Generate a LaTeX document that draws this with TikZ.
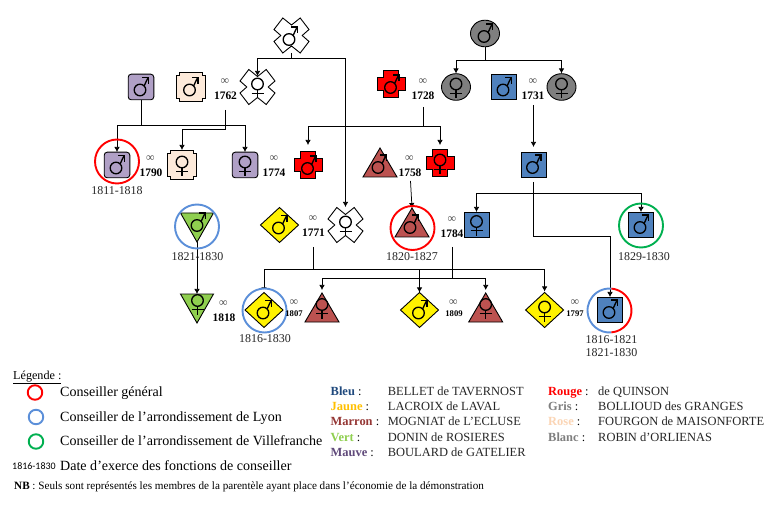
\documentclass[tikz,border=0pt]{standalone}
\usepackage{fontspec}
\setmainfont{Liberation Serif}
\newfontfamily\datefont{Carlito}
\usetikzlibrary{arrows.meta}
\definecolor{cmauve}{HTML}{B0A0C6}
\definecolor{crose}{HTML}{FDEADA}
\definecolor{cblue}{HTML}{4F81BD}
\definecolor{cbrown}{HTML}{BC5250}
\definecolor{cgreen}{HTML}{8FCF4F}
\definecolor{cgrey}{HTML}{7F7F7F}
\definecolor{ringblue}{HTML}{5B8FD9}
\definecolor{ringgreen}{HTML}{00B050}
\definecolor{tnavy}{HTML}{1F497D}
\definecolor{tjaune}{HTML}{FFC000}
\definecolor{tmarron}{HTML}{953735}
\definecolor{tmauve}{HTML}{604A7B}
\definecolor{trose}{HTML}{FBD5B5}
\tikzset{
  pbox/.style={inner sep=0pt,outer sep=0pt,rectangle},
  pshape/.style={draw=black,line width=0.9pt,line join=miter},
  sym/.style={draw=black,line width=1.35pt},
  conn/.style={draw=black,line width=0.75pt},
  arr/.style={conn,-{Latex[length=5bp,width=5.5bp]}},
  ring/.style={circle,draw,line width=1.9pt,minimum size=44bp,inner sep=0pt},
  legring/.style={circle,draw,line width=1.9pt,minimum size=14.5bp,inner sep=0pt},
  inf/.style={font=\fontsize{12}{12}\selectfont,text=black!70,inner sep=0pt},
  yr/.style={font=\fontsize{11.5}{12}\selectfont\bfseries,inner sep=0pt},
  yrs/.style={font=\fontsize{8.7}{10}\selectfont\bfseries,inner sep=0pt},
  dates/.style={font=\fontsize{12}{13}\selectfont,inner sep=0pt,text=black!85},
  legt/.style={font=\fontsize{14.1}{15}\selectfont,anchor=base west,inner sep=0pt},
  famk/.style={font=\fontsize{12.5}{13}\selectfont\bfseries,anchor=base west,inner sep=0pt},
  famv/.style={font=\fontsize{12.5}{13}\selectfont,anchor=base west,inner sep=0pt,text=black!85},
}
\newcommand{\symM}[2]{\begin{scope}[shift={(#1,#2)}]
  \draw[sym] (-1,3) circle (5.8);
  \draw[sym] (3.1,-1.1) -- (7,-9.2);
  \draw[sym] (1.4,-9.4) -- (7.6,-9.4) -- (7.6,-3.2);
  \end{scope}}
\newcommand{\symF}[2]{\begin{scope}[shift={(#1,#2)}]
  \draw[sym] (0,-3) circle (5.8);
  \draw[sym] (0,2.8) -- (0,11.5);
  \draw[sym] (-6,6.3) -- (6,6.3);
  \end{scope}}
\newcommand{\shSq}[1]{\draw[pshape,fill=#1] (-12.5,-12.5) rectangle (12.5,12.5);}
\newcommand{\shRd}[1]{\draw[pshape,fill=#1,rounded corners=3] (-12.8,-12.8) rectangle (12.8,12.8);}
\newcommand{\shPl}[1]{\draw[pshape,fill=#1] (-11.5,-14.5) -- (11.5,-14.5) -- (11.5,-11.5) -- (14.5,-11.5) -- (14.5,11.5) -- (11.5,11.5) -- (11.5,14.5) -- (-11.5,14.5) -- (-11.5,11.5) -- (-14.5,11.5) -- (-14.5,-11.5) -- (-11.5,-11.5) -- cycle;}
\newcommand{\shCr}[1]{\draw[pshape,fill=#1] (-7.5,-13.5) -- (7.5,-13.5) -- (7.5,-6.7) -- (14,-6.7) -- (14,6.7) -- (7.5,6.7) -- (7.5,13.5) -- (-7.5,13.5) -- (-7.5,6.7) -- (-14,6.7) -- (-14,-6.7) -- (-7.5,-6.7) -- cycle;}
\newcommand{\shX}{\draw[pshape,fill=white] (-8.7,-17.5) -- (0,-10.5) -- (8.7,-17.5) -- (17.5,-6) -- (10.7,0) -- (17.5,6) -- (8.7,17.5) -- (0,10.5) -- (-8.7,17.5) -- (-17.5,6) -- (-10.7,0) -- (-17.5,-6) -- cycle;}
\newcommand{\shDi}{\draw[pshape,fill=yellow] (-19,0) -- (0,-17.5) -- (19,0) -- (0,17.5) -- cycle;}
\newcommand{\shTr}{\draw[pshape,fill=cbrown] (-17,14.5) -- (0,-14.5) -- (17,14.5) -- cycle;}
\newcommand{\shTi}{\draw[pshape,fill=cgreen] (-16.5,-14.5) -- (16.5,-14.5) -- (0,14.5) -- cycle;}
\newcommand{\shEl}{\draw[pshape,fill=cgrey] (0,0) ellipse (14.5 and 13.3);}
\begin{document}
\begin{tikzpicture}[x=1bp,y=-1bp]
\useasboundingbox (0,0) rectangle (772,506);
\fill[white] (0,0) rectangle (772,506);

\node[pbox,minimum width=35bp,minimum height=35bp] (wm) at (291.5,35.5) {};
\node[pbox,minimum width=29bp,minimum height=27bp] (gm) at (485,33.5) {};

% junctions
\coordinate (j1) at (291.5,58);
\coordinate (j2) at (141,125.7);
\coordinate (j3) at (225.5,129.5);
\coordinate (j4) at (423,126.5);
\coordinate (j5) at (485,60);
\coordinate (j6) at (533.5,193);
\coordinate (j7) at (533.5,236.7);
\coordinate (j8) at (313,269.5);
\coordinate (j9) at (452,278);
\coordinate (s1762) at (225.5,110);
\coordinate (s1728) at (423,107);
\coordinate (s1731) at (533.5,105);
\coordinate (s1758) at (410.5,181);
\coordinate (s1771) at (313,247);
\coordinate (s1784) at (452,247);
\coordinate (k1) at (419.5,269.5);

\node[pbox,minimum width=35bp,minimum height=22bp] (wf) at (257.5,87) {};
\node[pbox,minimum width=26bp,minimum height=26bp] (mm) at (141,87) {};
\node[pbox,minimum width=29bp,minimum height=27bp] (rm) at (190.5,87) {};
\node[pbox,minimum width=28bp,minimum height=27bp] (redm) at (391,84) {};
\node[pbox,minimum width=29bp,minimum height=27bp] (gf) at (456,87) {};
\node[pbox,minimum width=25bp,minimum height=25bp] (bm) at (504,87) {};
\node[pbox,minimum width=29bp,minimum height=27bp] (gf2) at (561.5,87) {};
\node[pbox,minimum width=26bp,minimum height=26bp] (mson) at (117,165) {};
\node[pbox,minimum width=29bp,minimum height=30bp] (rf) at (182,165) {};
\node[pbox,minimum width=26bp,minimum height=26bp] (mf) at (245,165) {};
\node[pbox,minimum width=28bp,minimum height=40bp] (red2) at (308,165) {};
\node[pbox,minimum width=28bp,minimum height=36bp] (redf) at (440,163) {};
\node[pbox,minimum width=34bp,minimum height=29bp] (tm) at (380,162.5) {};
\node[pbox,minimum width=25bp,minimum height=35bp] (bson) at (533.5,164.5) {};
\node[pbox,minimum width=33bp,minimum height=29bp] (gm2) at (197,227.5) {};
\node[pbox,minimum width=38bp,minimum height=35bp] (ym) at (279.5,225) {};
\node[pbox,minimum width=35bp,minimum height=36bp] (wf2) at (345.5,225) {};
\node[pbox,minimum width=34bp,minimum height=29bp] (tm2) at (412,222.5) {};
\node[pbox,minimum width=25bp,minimum height=25bp] (bf) at (476.5,224.5) {};
\node[pbox,minimum width=25bp,minimum height=25bp] (bm3) at (641,224.5) {};
\node[pbox,minimum width=33bp,minimum height=29bp] (gf3) at (197,308.5) {};
\node[pbox,minimum width=38bp,minimum height=35bp] (ym2) at (264,310) {};
\node[pbox,minimum width=34bp,minimum height=35bp] (tf) at (322,307.5) {};
\node[pbox,minimum width=38bp,minimum height=35bp] (ym3) at (419.5,310) {};
\node[pbox,minimum width=34bp,minimum height=35bp] (tf2) at (485.7,307.5) {};
\node[pbox,minimum width=38bp,minimum height=37bp] (yf) at (544.6,310) {};
\node[pbox,minimum width=25bp,minimum height=25bp] (bm4) at (610,309.5) {};

% connectors
\draw[conn] (wm.south) -- (j1);
\draw[arr] (j1) -| (wf.north);
\draw[arr] (j1) -| (wf2.north);
\draw[conn] (mm.south) -- (j2);
\draw[arr] (j2) -| (mson.north);
\draw[arr] (j2) -| (mf.north);
\draw[conn] (s1762) -- (j3);
\draw[arr] (j3) -| (rf.north);
\draw[conn] (s1728) -- (j4);
\draw[arr] (j4) -| (red2.north);
\draw[arr] (j4) -| (redf.north);
\draw[conn] (gm.south) -- (j5);
\draw[arr] (j5) -| (gf.north);
\draw[arr] (j5) -| (gf2.north);
\draw[arr] (s1731) -- (bson.north);
\draw[conn] (bson.south) -- (j7);
\draw[arr] (j6) -| (bf.north);
\draw[arr] (j6) -| (bm3.north);
\draw[arr] (j7) -| (bm4.north);
\draw[arr] (s1758) -- (tm2.north);
\draw[arr] (gm2.south) -- (gf3.north);
\draw[conn] (s1771) -- (j8);
\draw[arr] (j8) -| (ym2.north);
\draw[arr] (j8) -| (yf.north);
\draw[arr] (k1) -- (ym3.north);
\draw[conn] (s1784) -- (j9);
\draw[arr] (j9) -| (tf.north);
\draw[arr] (j9) -| (tf2.north);

% shapes
\begin{scope}[shift={(wm.center)}]\shX\symM{-1.5}{1}\end{scope}
\begin{scope}[shift={(gm.center)}]\shEl{}\symM{0}{0}\end{scope}
\begin{scope}[shift={(wf.center)}]\shX\symF{0}{0}\end{scope}
\begin{scope}[shift={(mm.center)}]\shRd{cmauve}\symM{0}{0}\end{scope}
\begin{scope}[shift={(rm.center)}]\shPl{crose}\symM{0}{0}\end{scope}
\begin{scope}[shift={(redm.center)}]\shCr{red}\symM{0.5}{0.5}\end{scope}
\begin{scope}[shift={(gf.center)}]\shEl{}\symF{0}{0}\end{scope}
\begin{scope}[shift={(bm.center)}]\shSq{cblue}\symM{0}{0}\end{scope}
\begin{scope}[shift={(gf2.center)}]\shEl{}\symF{0}{0}\end{scope}
\begin{scope}[shift={(mson.center)}]\shRd{cmauve}\symM{0}{0}\end{scope}
\begin{scope}[shift={(rf.center)}]\shPl{crose}\symF{0}{0}\end{scope}
\begin{scope}[shift={(mf.center)}]\shRd{cmauve}\symF{0}{0}\end{scope}
\begin{scope}[shift={(red2.center)}]\shCr{red}\symM{0.5}{0.5}\end{scope}
\begin{scope}[shift={(redf.center)}]\shCr{red}\symF{0}{0}\end{scope}
\begin{scope}[shift={(tm.center)}]\shTr\symM{-1}{2}\end{scope}
\begin{scope}[shift={(bson.center)}]\shSq{cblue}\symM{0}{0}\end{scope}
\begin{scope}[shift={(gm2.center)}]\shTi\symM{1}{-5}\end{scope}
\begin{scope}[shift={(ym.center)}]\shDi\symM{0}{0}\end{scope}
\begin{scope}[shift={(wf2.center)}]\shX\symF{0}{0}\end{scope}
\begin{scope}[shift={(tm2.center)}]\shTr\symM{-1}{2}\end{scope}
\begin{scope}[shift={(bf.center)}]\shSq{cblue}\symF{0}{0}\end{scope}
\begin{scope}[shift={(bm3.center)}]\shSq{cblue}\symM{0}{0}\end{scope}
\begin{scope}[shift={(gf3.center)}]\shTi\symF{0.5}{-5}\end{scope}
\node[ring,draw=ringblue,fill=white] (r1816) at (264.5,310.5) {};
\begin{scope}[shift={(ym2.center)}]\shDi\symM{0}{0}\end{scope}
\begin{scope}[shift={(tf.center)}]\shTr\symF{0}{0}\end{scope}
\begin{scope}[shift={(ym3.center)}]\shDi\symM{0}{0}\end{scope}
\begin{scope}[shift={(tf2.center)}]\shTr\symF{0}{0}\end{scope}
\begin{scope}[shift={(yf.center)}]\shDi\symF{0}{0}\end{scope}
\begin{scope}[shift={(bm4.center)}]\shSq{cblue}\symM{0}{0}\end{scope}

% rings
\node[ring,draw=red] (r1811) at (117,161.5) {};
\node[ring,draw=ringblue] (r1821) at (197,226.5) {};
\node[ring,draw=red] (r1820) at (412.5,228) {};
\node[ring,draw=ringgreen] (r1829) at (641,225.5) {};
\coordinate (r2) at (609.5,310.5);
\draw[ringblue,line width=1.9pt] ([shift={(85:22)}]r2) arc[start angle=85,end angle=275,radius=22];
\draw[red,line width=1.9pt] ([shift={(85:22)}]r2) arc[start angle=85,end angle=-85,radius=22];

% marriages
\node[inf] (i1762) at (225,82) {∞};
\node[yr] (y1762) at (225.5,96) {1762};
\node[inf] (i1728) at (423,82) {∞};
\node[yr] (y1728) at (423,96) {1728};
\node[inf] (i1731) at (533,82) {∞};
\node[yr] (y1731) at (533,96) {1731};
\node[inf] (i1790) at (150.5,159) {∞};
\node[yr] (y1790) at (151,173) {1790};
\node[inf] (i1774) at (274,159) {∞};
\node[yr] (y1774) at (274,173) {1774};
\node[inf] (i1758) at (409.5,159) {∞};
\node[yr] (y1758) at (410,173) {1758};
\node[inf] (i1771) at (313,219) {∞};
\node[yr] (y1771) at (313.5,233) {1771};
\node[inf] (i1784) at (452,220) {∞};
\node[yr] (y1784) at (452,234) {1784};
\node[inf] (i1818) at (223.5,304) {∞};
\node[yr] (y1818) at (224,318) {1818};
\node[inf] (i1807) at (294,303) {∞};
\node[yrs] (y1807) at (294,314) {1807};
\node[inf] (i1809) at (453.5,303) {∞};
\node[yrs] (y1809) at (454,314) {1809};
\node[inf] (i1797) at (575,303) {∞};
\node[yrs] (y1797) at (575,314) {1797};

% dates
\node[dates] (d1) at (117,191) {1811-1818};
\node[dates] (d2) at (197.5,257) {1821-1830};
\node[dates] (d3) at (412,257) {1820-1827};
\node[dates] (d4) at (644,257) {1829-1830};
\node[dates] (d5) at (265,339) {1816-1830};
\node[dates] (d6) at (611.5,340) {1816-1821};
\node[dates] (d7) at (611.5,353) {1821-1830};

% legend
\node[font=\fontsize{12.2}{13}\selectfont,anchor=base west,inner sep=0pt] (lg) at (13,379) {\underline{Légende :}};
\node[legring,draw=red] (l1) at (35,392.5) {};
\node[legring,draw=ringblue] (l2) at (36,417) {};
\node[legring,draw=ringgreen] (l3) at (36,441.5) {};
\node[legt] (t1) at (60,396.5) {Conseiller général};
\node[legt] (t2) at (60,421.5) {Conseiller de l’arrondissement de Lyon};
\node[legt] (t3) at (60,445.5) {Conseiller de l’arrondissement de Villefranche};
\node[font=\datefont\fontsize{10}{11}\selectfont,anchor=base west,inner sep=0pt] (t4a) at (12,469) {1816-1830};
\node[legt] (t4) at (60,470) {Date d’exerce des fonctions de conseiller};
\node[font=\fontsize{11.2}{12}\selectfont,anchor=base west,inner sep=0pt] (nb) at (14,489) {\textbf{NB} : Seuls sont représentés les membres de la parentèle ayant place dans l’économie de la démonstration};

\node[famk,text=tnavy] (k1a) at (330.5,395.5) {Bleu \textmd{\textcolor{black}{:}}};
\node[famk,text=tjaune] (k2a) at (330.5,410.5) {Jaune \textmd{\textcolor{black}{:}}};
\node[famk,text=tmarron] (k3a) at (330.5,425.5) {Marron \textmd{\textcolor{black}{:}}};
\node[famk,text=cgreen] (k4a) at (330.5,441) {Vert \textmd{\textcolor{black}{:}}};
\node[famk,text=tmauve] (k5a) at (330.5,456) {Mauve \textmd{\textcolor{black}{:}}};
\node[famv] (v1a) at (387.7,395.5) {BELLET de TAVERNOST};
\node[famv] (v2a) at (387.7,410.5) {LACROIX de LAVAL};
\node[famv] (v3a) at (387.7,425.5) {MOGNIAT de L’ECLUSE};
\node[famv] (v4a) at (387.7,441) {DONIN de ROSIERES};
\node[famv] (v5a) at (387.7,456) {BOULARD de GATELIER};
\node[famk,text=red] (k1b) at (548,395.5) {Rouge \textmd{\textcolor{black}{:}}};
\node[famk,text=cgrey] (k2b) at (548,410.5) {Gris \textmd{\textcolor{black}{:}}};
\node[famk,text=trose] (k3b) at (548,425.5) {Rose \textmd{\textcolor{black}{:}}};
\node[famk,text=cgrey] (k4b) at (548,441) {Blanc \textmd{\textcolor{black}{:}}};
\node[famv] (v1b) at (598,395.5) {de QUINSON};
\node[famv] (v2b) at (598,410.5) {BOLLIOUD des GRANGES};
\node[famv] (v3b) at (598,425.5) {FOURGON de MAISONFORTE};
\node[famv] (v4b) at (598,441) {ROBIN d’ORLIENAS};
\end{tikzpicture}
\end{document}
